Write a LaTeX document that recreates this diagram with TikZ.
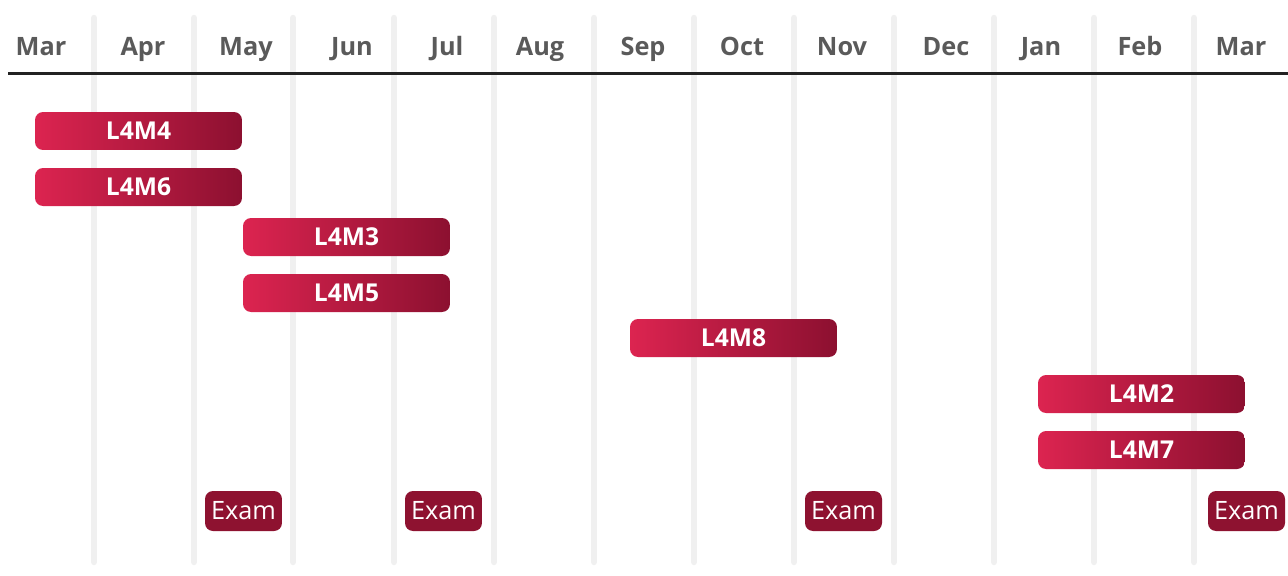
\documentclass[tikz,border=0pt]{standalone}
\usepackage{fontspec}
\setmainfont{Open Sans}
\usepackage{xcolor}
\definecolor{BarLight}{RGB}{220, 36, 80}
\definecolor{BarDark}{RGB}{140, 16, 48}
\definecolor{ExamRed}{RGB}{142, 18, 48}
\definecolor{MonthGray}{RGB}{90, 90, 90}
\definecolor{GridGray}{RGB}{240, 240, 240}
\definecolor{RuleBlack}{RGB}{34, 34, 34}

\begin{document}
\begin{tikzpicture}[x=0.02cm, y=-0.02cm,
    gridline/.style={GridGray, line width=0.13cm, line cap=round},
    monthlabel/.style={text=MonthGray, font=\fontsize{14.4}{17}\selectfont\bfseries, inner sep=0pt, anchor=base},
    modbar/.style={rounded corners=0.16cm, left color=BarLight, right color=BarDark, minimum width=4.14cm, minimum height=0.76cm, inner sep=0pt, text=white, font=\fontsize{14}{17}\selectfont\bfseries},
    exambox/.style={rounded corners=0.16cm, fill=ExamRed, minimum width=1.54cm, minimum height=0.8cm, inner sep=0pt, text=white, font=\fontsize{14.4}{17}\selectfont}]
    \useasboundingbox (0,0) rectangle (1288,575);

    % Grid lines
    \foreach \gx [count=\i] in {94,194,293,394,494,594,694,794,894,994,1094,1194} {
        \coordinate (gtop\i) at (\gx,18);
        \coordinate (gbot\i) at (\gx,562);
        \draw[gridline] (gtop\i) -- (gbot\i);
    }

    % Months
    \foreach \mx/\mname [count=\i] in {41/Mar,143/Apr,246/May,352/Jun,447/Jul,540/Aug,643/Sep,742/Oct,842/Nov,946/Dec,1041/Jan,1140/Feb,1241/Mar} {
        \node[monthlabel] (month\i) at (\mx,55) {\mname};
    }

    % Header rule
    \coordinate (ruleL) at (8,73);
    \coordinate (ruleR) at (1288,73);
    \draw[RuleBlack, line width=0.06cm] (ruleL) -- (ruleR);

    % Modules
    \node[modbar] (m4) at (138.5,131) {L4M4};
    \node[modbar] (m6) at (138.5,187) {L4M6};
    \node[modbar] (m3) at (346.5,237) {L4M3};
    \node[modbar] (m5) at (346.5,293) {L4M5};
    \node[modbar] (m8) at (733.5,338) {L4M8};
    \node[modbar] (m2) at (1141.5,394) {L4M2};
    \node[modbar] (m7) at (1141.5,450) {L4M7};

    % Exams
    \node[exambox] (exam1) at (243.5,511) {Exam};
    \node[exambox] (exam2) at (443.5,511) {Exam};
    \node[exambox] (exam3) at (843.5,511) {Exam};
    \node[exambox] (exam4) at (1246.5,511) {Exam};
\end{tikzpicture}
\end{document}
